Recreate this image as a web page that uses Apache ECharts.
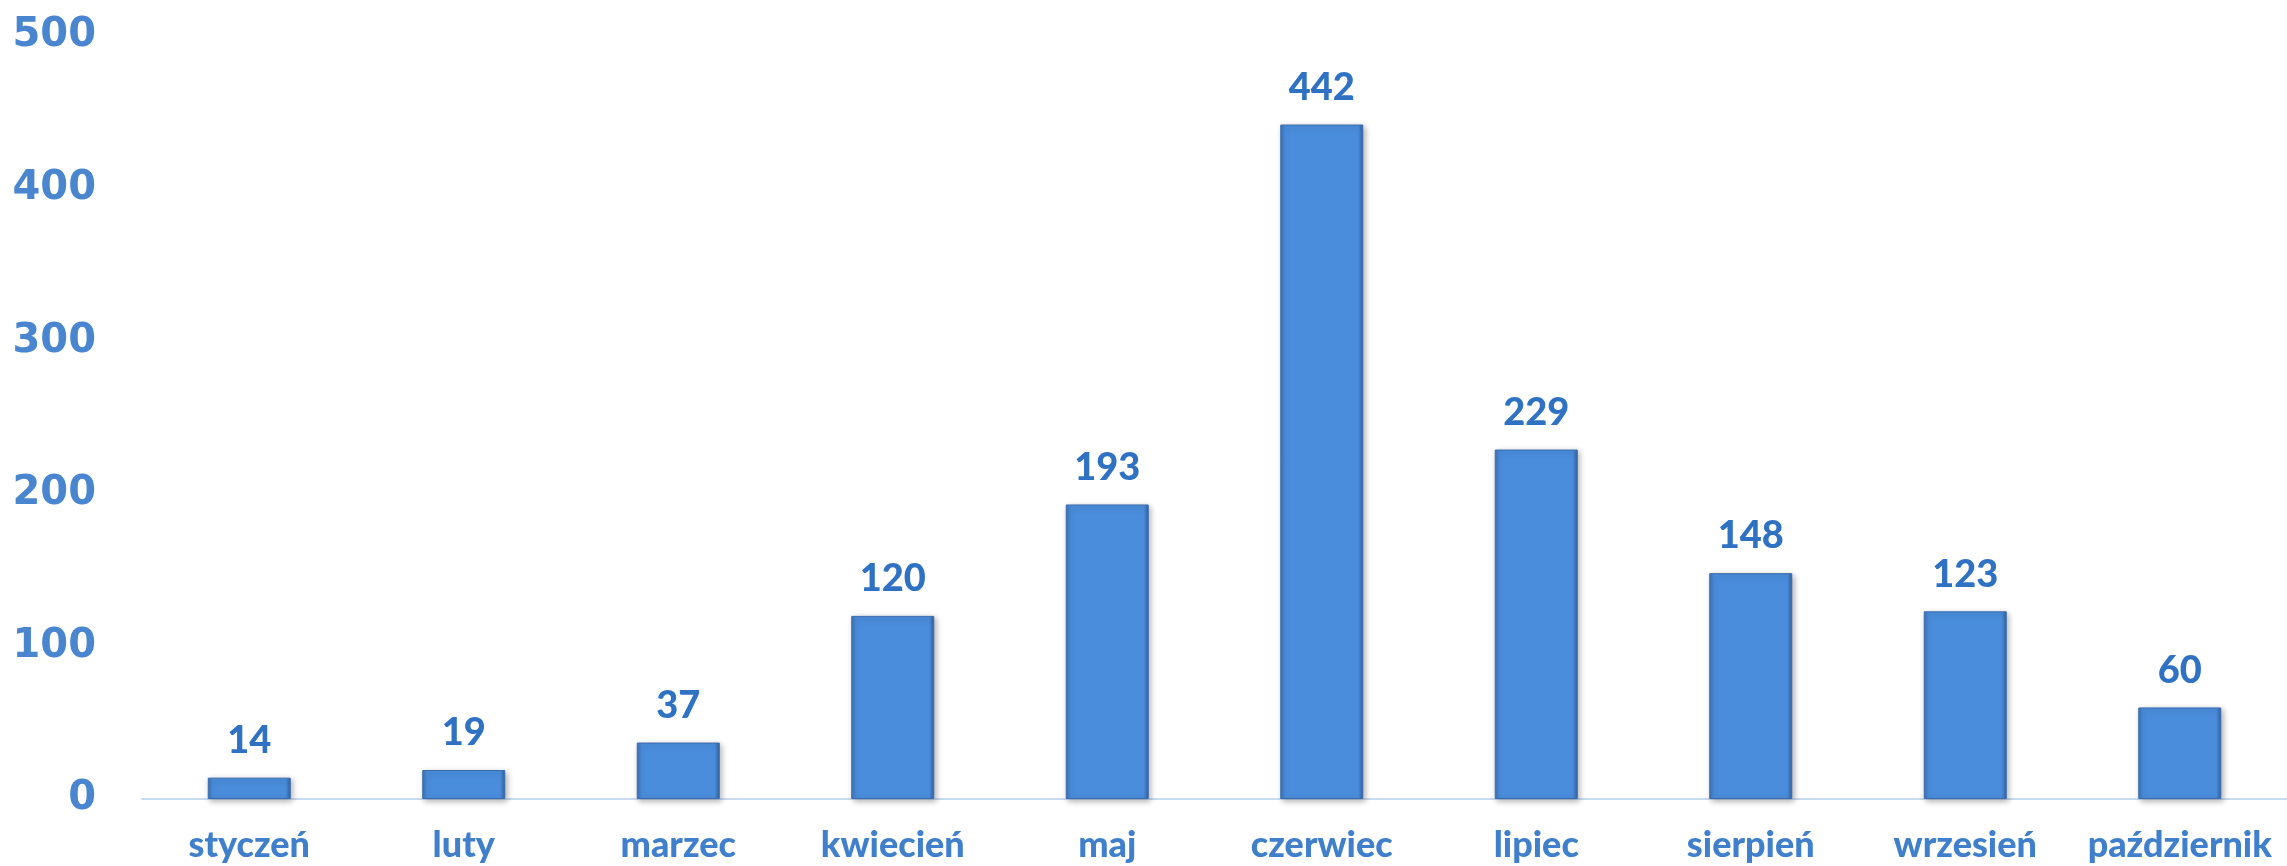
<!DOCTYPE html>
<html><head><meta charset="utf-8">
<script src="https://cdn.jsdelivr.net/npm/echarts@6/dist/echarts.min.js"></script>
<style>html,body{margin:0;padding:0;background:#fff}#c{width:2287px;height:866px}</style>
</head><body><div id="c"></div>
<script>
const categories = ['styczeń','luty','marzec','kwiecień','maj','czerwiec','lipiec','sierpień','wrzesień','październik'];
const values = [14,19,37,120,193,442,229,148,123,60];
const yTicks = [0,100,200,300,400,500];

const chart = echarts.init(document.getElementById('c'));
chart.setOption({
  animation:false,
  grid:{left:142,right:0,top:36,bottom:67},
  xAxis:{type:'category',data:categories,
    axisLine:{lineStyle:{color:'#c9dbf1',width:2}},
    axisTick:{show:false},
    axisLabel:{interval:0,color:'#3f7fcc',fontFamily:'Lato',fontWeight:900,fontSize:36,margin:28}},
  yAxis:{type:'value',min:yTicks[0],max:yTicks[yTicks.length-1],interval:100,
    axisLine:{show:false},axisTick:{show:false},splitLine:{show:false},
    axisLabel:{color:'#4a86d0',fontFamily:'DejaVu Sans',fontWeight:'bold',fontSize:40,margin:46}},
  series:[{type:'bar',data:values,barWidth:83,
    itemStyle:{
      color:new echarts.graphic.LinearGradient(0,0,1,0,[
        {offset:0,color:'#3c72b8'},{offset:0.06,color:'#4a8ddc'},
        {offset:0.94,color:'#4a8ddc'},{offset:1,color:'#335f9c'}]),
      borderColor:'#3a6cad',borderWidth:1,
      shadowColor:'rgba(0,0,0,0.3)',shadowBlur:6,shadowOffsetX:2,shadowOffsetY:2},
    label:{show:true,position:'top',distance:18,color:'#2f72c4',fontFamily:'Lato',fontWeight:900,fontSize:38}
  }]
});
</script></body></html>
